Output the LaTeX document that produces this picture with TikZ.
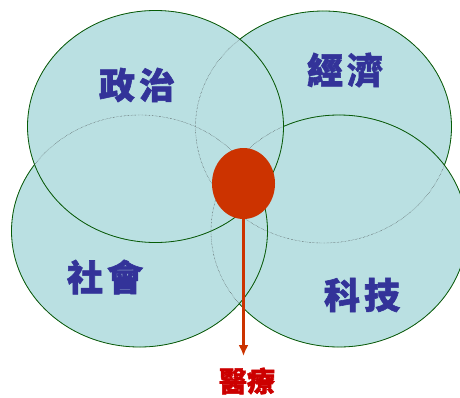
\documentclass[tikz,border=0pt]{standalone}
\usepackage{fontspec}
\usetikzlibrary{positioning, shapes.geometric, arrows.meta}
\newfontfamily\cjk{Noto Sans CJK TC}[BoldFeatures={FakeBold=1.6}]
\definecolor{ringfill}{RGB}{186,224,226}
\definecolor{ringline}{RGB}{0,100,0}
\definecolor{textblue}{RGB}{51,51,153}
\definecolor{corered}{RGB}{204,51,0}
\definecolor{medred}{RGB}{204,0,0}

\begin{document}
\begin{tikzpicture}[x=1pt, y=-1pt,
    ring/.style={ellipse, draw=ringline, line width=0.8pt, fill=ringfill, minimum width=256pt, minimum height=232pt, inner sep=0pt},
    hidden/.style={draw=black!80, densely dotted, line width=0.4pt},
    topic/.style={font=\cjk\bfseries\fontsize{36}{36}\selectfont, text=textblue},
    core/.style={ellipse, fill=corered, minimum width=63pt, minimum height=71pt, inner sep=0pt},
    line/.style={draw=corered, line width=2.5pt, -{Latex[length=11pt, width=10pt]}, shorten >=8pt},
    every node/.style={font=\small}
]
\clip (0,0) rectangle (460,397);

% Circles
\node[ring] (eco) at (323.5,127) {};
\node[ring] (tech) at (339,231) {};
\node[ring] (soc) at (139.5,231) {};
\node[ring] (pol) at (155.5,126.5) {};

% Hidden outlines
\foreach \n in {eco,tech,soc,pol}
    \draw[hidden] (\n.center) ellipse [x radius=128, y radius=116];

% Topics
\node[topic] (pol_label) at (137,85) {政\hspace{4pt}治};
\node[topic] (eco_label) at (345,70) {經\hspace{4pt}濟};
\node[topic] (soc_label) at (105,277) {社\hspace{4pt}會};
\node[topic] (tech_label) at (362,295) {科\hspace{4pt}技};

% Core
\node[core] (heal) at (243.5,183.5) {};
\node[font=\cjk\bfseries\fontsize{28}{28}\selectfont, text=medred] (med) at (247,381) {醫療};
\draw[line] (heal.south) -- (heal.south |- med.north);

\end{tikzpicture}
\end{document}
